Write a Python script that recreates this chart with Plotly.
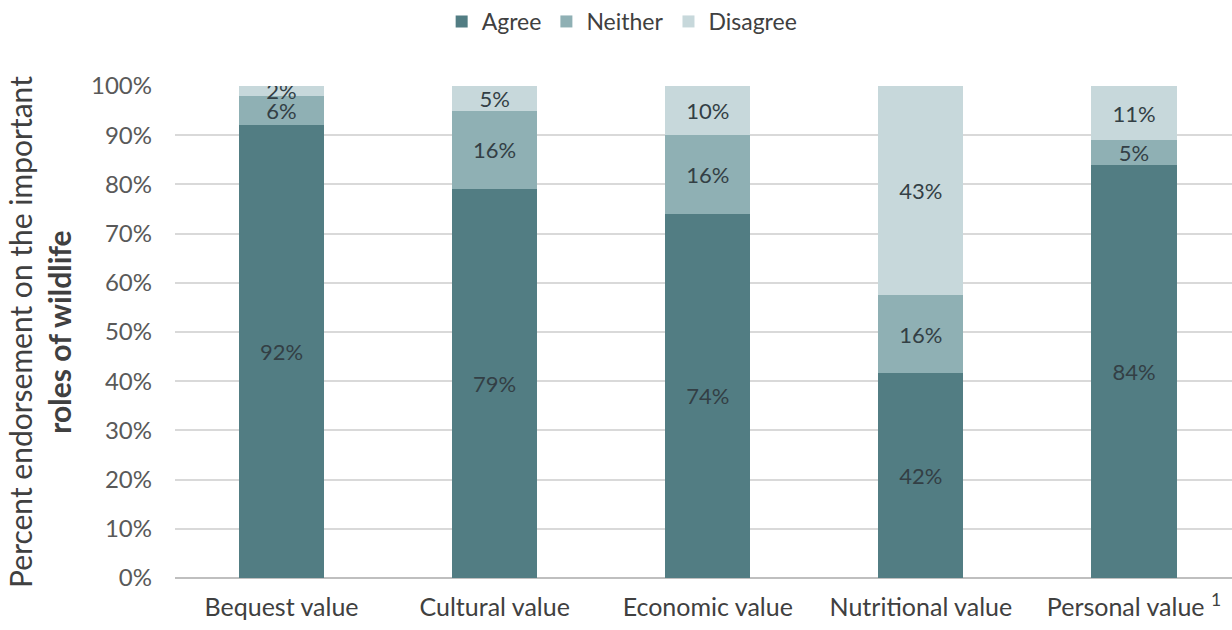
import plotly.graph_objects as go

categories = ["Bequest value", "Cultural value", "Economic value", "Nutritional value", "Personal value <sup>1</sup>"]
agree = [92, 79, 74, 42, 84]
neither = [6, 16, 16, 16, 5]
disagree = [2, 5, 10, 43, 11]
series_names = ["Agree", "Neither", "Disagree"]
colors = ["#527d83", "#8fb0b4", "#c7d8db"]
tick_vals = [0, 10, 20, 30, 40, 50, 60, 70, 80, 90, 100]
tick_text = [f"{v}%" for v in tick_vals]

FONT = "Lato, Open Sans, sans-serif"
fig = go.Figure()
for name, vals, col in zip(series_names, [agree, neither, disagree], colors):
    fig.add_trace(go.Bar(
        x=categories, y=vals, name=name,
        marker=dict(color=col, line=dict(width=0)),
        text=[f"{v}%" for v in vals],
        textposition="inside", insidetextanchor="middle",
        constraintext="none",
        textfont=dict(family=FONT, size=22, color="#333f45"),
        hoverinfo="skip",
    ))

fig.update_layout(
    barmode="stack", barnorm="percent", bargap=0.6,
    width=1232, height=630,
    margin=dict(l=175, r=0, t=86, b=52),
    paper_bgcolor="white", plot_bgcolor="white",
    font=dict(family=FONT, color="#404040"),
    legend=dict(orientation="h", xref="container", x=0.505, xanchor="center",
                yref="container", y=1.0, yanchor="top",
                font=dict(size=23, color="#404040"), itemwidth=30,
                traceorder="normal"),
    xaxis=dict(range=[-0.5, 4.46], showgrid=False, showline=False, ticks="",
               tickfont=dict(size=25, color="#404040"), ticklabelstandoff=12),
    yaxis=dict(range=[0, 100], tickmode="array", tickvals=tick_vals, ticktext=tick_text,
               showgrid=True, gridcolor="#d9d9d9", gridwidth=1.5,
               zeroline=True, zerolinecolor="#bfbfbf", zerolinewidth=1.5,
               tickfont=dict(size=24, color="#595959"), ticklabelstandoff=22,
               title=dict(text="Percent endorsement on the important<br><b>roles of wildlife</b>",
                          font=dict(size=30, color="#404040"), standoff=10)),
)

fig.write_html("out.html")
